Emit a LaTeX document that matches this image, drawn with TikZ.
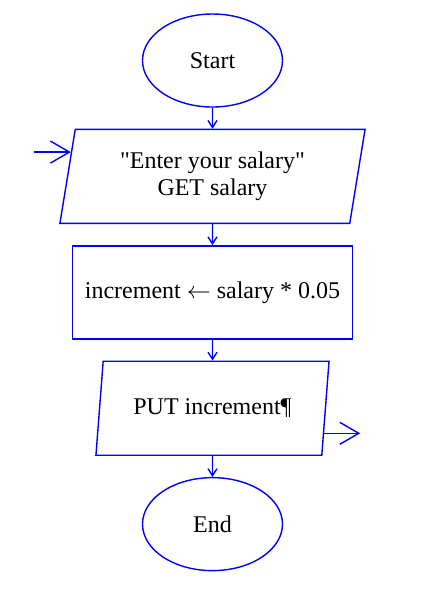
\documentclass[tikz,border=0pt]{standalone}
\usepackage{fontspec}
\setmainfont{Liberation Serif}[Ligatures=TeXOff]
\usetikzlibrary{arrows.meta,positioning,shapes.geometric,calc}

\begin{document}
\begin{tikzpicture}[>={Straight Barb[length=3.5pt,width=4.5pt]}, node distance=10.5pt,
	every node/.style={font=\fontsize{12}{13.8}\selectfont},
	flow/.style={draw=blue, line width=0.7pt},
	term/.style={flow, ellipse, minimum width=70pt, minimum height=46.5pt, inner sep=0pt},
	io/.style={flow, trapezium, trapezium left angle=80, trapezium right angle=100, trapezium stretches=true, minimum height=47pt, align=center},
	proc/.style={flow, rectangle, minimum width=140pt, minimum height=46.5pt},
	link/.style={draw=blue, line width=0.7pt},
	side/.style={draw=blue, line width=0.7pt, -{Straight Barb[length=9.5pt,width=11pt]}}]
		\useasboundingbox (0,0) rectangle (210pt,-303.5pt);
		\node[term] (start) at (106.25pt,-30.25pt) {Start};
		\node[io, minimum width=152.8pt] (get) [below=of start] {"Enter your salary"\\GET salary};
		\node[proc] (calc) [below=of get] {increment $\leftarrow$ salary * 0.05};
		\node[io, minimum width=117pt] (put) [below=of calc] {PUT increment¶};
		\node[term] (end) [below=of put] {End};

		\path[link,->]
		(start) edge (get)
		(get) edge (calc)
		(calc) edge (put)
		(put) edge (end)
		;

		\coordinate (getin) at ($(get.bottom left corner)!0.755!(get.top left corner)$);
		\coordinate[left=18.5pt of getin] (entry);
		\draw[side] (entry) -- (getin);
		\coordinate (putout) at ($(put.bottom right corner)!0.237!(put.top right corner)$);
		\coordinate[right=18pt of putout] (exit);
		\draw[side] (putout) -- (exit);
	\end{tikzpicture}
\end{document}
